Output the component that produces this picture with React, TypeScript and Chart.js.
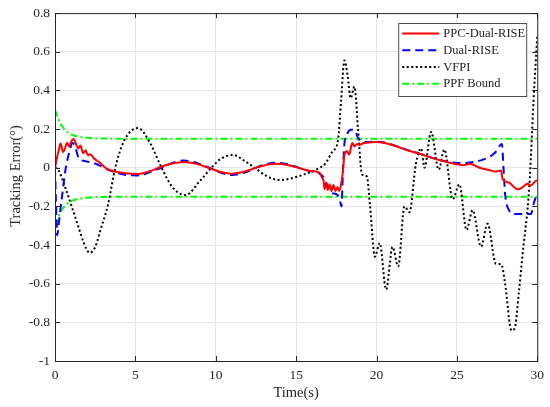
import { useEffect, useRef } from "react"
import { Chart, registerables } from "chart.js"

Chart.register(...registerables)

// [time (s), tracking error (deg)]
const ppcDualRise: [number, number][] = [
  [0, 0], [0.12, 0.05], [0.23, 0.09], [0.35, 0.125], [0.5, 0.08], [0.62, 0.1], [0.75, 0.128],
  [0.88, 0.11], [1.0, 0.135], [1.16, 0.148], [1.3, 0.125], [1.45, 0.1], [1.58, 0.115], [1.75, 0.075],
  [1.9, 0.09], [2.05, 0.065], [2.2, 0.07], [2.4, 0.05], [2.8, 0.025], [3.2, -0.004], [3.8, -0.021],
  [4.5, -0.03], [5.2, -0.032], [6.0, -0.015], [6.6, 0.005], [7.3, 0.022], [8.0, 0.03], [8.8, 0.02],
  [9.6, -0.002], [10.3, -0.022], [11.0, -0.031], [11.8, -0.02], [12.5, 0.0], [13.0, 0.012], [13.7, 0.02],
  [14.4, 0.015], [15.0, 0.003], [15.5, -0.009], [16.0, -0.018], [16.45, -0.026], [16.6, -0.05],
  [16.71, -0.069], [16.77, -0.112], [16.87, -0.078], [16.97, -0.115], [17.08, -0.085], [17.2, -0.12],
  [17.32, -0.09], [17.45, -0.12], [17.57, -0.1], [17.68, -0.12], [17.8, -0.085], [17.91, -0.02],
  [18.01, 0.068], [18.16, 0.085], [18.3, 0.068], [18.49, 0.128], [18.63, 0.11], [18.78, 0.123],
  [18.95, 0.118], [19.2, 0.128], [19.5, 0.13], [20.0, 0.133], [20.5, 0.128], [21.2, 0.112], [22.0, 0.088],
  [22.6, 0.075], [23.1, 0.06], [23.9, 0.04], [24.5, 0.027], [25.0, 0.018], [25.4, 0.013], [25.8, 0.02],
  [26.4, 0.0], [27.0, -0.012], [27.4, -0.02], [27.75, -0.015], [27.85, -0.06], [28.26, -0.078],
  [28.55, -0.1], [28.8, -0.112], [29.1, -0.1], [29.4, -0.083], [29.6, -0.092], [29.88, -0.07], [30, -0.065],
]

const dualRise: [number, number][] = [
  [0, 0], [0.05, -0.15], [0.14, -0.35], [0.22, -0.3], [0.33, -0.22], [0.43, -0.155], [0.64, -0.017],
  [0.85, 0.068], [1.1, 0.128], [1.25, 0.11], [1.47, 0.051], [1.88, 0.034], [2.5, 0.022], [3.3, -0.01],
  [3.8, -0.025], [4.5, -0.038], [5.2, -0.04], [6.0, -0.02], [6.6, 0.0], [7.3, 0.025], [8.0, 0.037],
  [8.8, 0.025], [9.6, 0.0], [10.3, -0.025], [11.0, -0.038], [11.8, -0.025], [12.5, 0.0], [13.0, 0.015],
  [13.7, 0.026], [14.4, 0.02], [15.0, 0.005], [15.5, -0.01], [16.0, -0.02], [16.45, -0.03], [16.8, -0.06],
  [17.1, -0.125], [17.5, -0.137], [17.7, -0.16], [17.82, -0.2], [17.92, 0.0], [18.0, 0.12], [18.15, 0.17],
  [18.4, 0.197], [18.65, 0.192], [18.85, 0.155], [19.05, 0.137], [19.5, 0.133], [20.0, 0.135],
  [20.5, 0.13], [21.2, 0.113], [22.0, 0.09], [22.6, 0.075], [23.1, 0.06], [23.9, 0.04], [24.5, 0.03],
  [25.0, 0.025], [25.5, 0.025], [26.0, 0.03], [26.5, 0.038], [27.0, 0.055], [27.4, 0.08], [27.8, 0.123],
  [27.9, 0.0], [28.0, -0.137], [28.25, -0.22], [28.6, -0.24], [29.6, -0.24], [29.8, -0.18], [30, -0.13],
]

const vfpi: [number, number][] = [
  [0, 0], [0.2, -0.01], [0.64, -0.103], [1.06, -0.206], [1.47, -0.31], [1.75, -0.38], [2.15, -0.44],
  [2.5, -0.41], [2.8, -0.33], [3.3, -0.19], [3.75, 0], [4.3, 0.14], [5.16, 0.205], [5.9, 0.13],
  [6.63, 0], [7.3, -0.1], [8.12, -0.142], [9.0, -0.07], [9.73, 0], [10.3, 0.045], [11.07, 0.066],
  [11.8, 0.035], [12.42, 0], [13.2, -0.045], [13.98, -0.064], [15.2, -0.043], [16.04, -0.017],
  [16.46, 0], [16.8, 0.02], [17.27, 0.085], [17.6, 0.14], [17.8, 0.35], [18.0, 0.555], [18.2, 0.48],
  [18.39, 0.36], [18.63, 0.42], [18.85, 0.2], [19.1, -0.035], [19.4, -0.045], [19.6, -0.2], [19.9, -0.46],
  [20.2, -0.39], [20.6, -0.63], [21.0, -0.41], [21.35, -0.51], [21.74, -0.2], [22.05, -0.23],
  [22.45, 0.02], [22.78, 0.1], [22.98, 0.0], [23.4, 0.185], [23.87, -0.01], [24.22, 0.094],
  [24.74, -0.163], [25.16, -0.086], [25.6, -0.322], [25.98, -0.22], [26.5, -0.408], [26.91, -0.29],
  [27.43, -0.497], [27.77, -0.5], [28.0, -0.6], [28.4, -0.842], [28.6, -0.83], [28.85, -0.65],
  [29.09, -0.447], [29.5, -0.103], [29.81, 0.41], [30.0, 0.677],
]

const ppfUpper: [number, number][] = [
  [0, 0.3], [0.2, 0.255], [0.4, 0.22], [0.6, 0.198], [0.8, 0.183], [1.0, 0.173], [1.3, 0.164],
  [1.6, 0.159], [2.0, 0.155], [2.5, 0.152], [3.0, 0.151], [4.0, 0.15], [30, 0.15],
]

const ppfLower: [number, number][] = [
  [0, -0.3], [0.2, -0.255], [0.4, -0.22], [0.6, -0.198], [0.8, -0.183], [1.0, -0.173], [1.3, -0.164],
  [1.6, -0.159], [2.0, -0.155], [2.5, -0.152], [3.0, -0.151], [4.0, -0.15], [30, -0.15],
]

const xTicks = { min: 0, max: 30, step: 5 }
const yTicks = { min: -1, max: 0.8, step: 0.2 }

const FONT = "'Liberation Serif', 'Times New Roman', serif"
const AXIS_COLOR = "#262626"

const toPoints = (pairs: [number, number][]) => pairs.map(([x, y]) => ({ x, y }))
const fmt = (v: number | string) => String(Number(Number(v).toFixed(1)))

// MATLAB-like box, inward ticks, axis titles and legend
const matlabAxes = {
  id: "matlabAxes",
  afterDraw(chart: Chart) {
    const { ctx, chartArea } = chart
    const { left, right, top, bottom } = chartArea
    const xs = chart.scales.x
    const ys = chart.scales.y
    ctx.save()
    ctx.strokeStyle = AXIS_COLOR
    ctx.lineWidth = 1
    ctx.setLineDash([])
    ctx.strokeRect(left + 0.5, top + 0.5, right - left, bottom - top)

    const tl = 5
    ctx.beginPath()
    xs.ticks.forEach((t) => {
      const px = Math.round(xs.getPixelForValue(t.value)) + 0.5
      ctx.moveTo(px, bottom)
      ctx.lineTo(px, bottom - tl)
      ctx.moveTo(px, top)
      ctx.lineTo(px, top + tl)
    })
    ys.ticks.forEach((t) => {
      const py = Math.round(ys.getPixelForValue(t.value)) + 0.5
      ctx.moveTo(left, py)
      ctx.lineTo(left + tl, py)
      ctx.moveTo(right, py)
      ctx.lineTo(right - tl, py)
    })
    ctx.stroke()

    // axis titles
    ctx.fillStyle = AXIS_COLOR
    ctx.font = `14.5px ${FONT}`
    ctx.textAlign = "center"
    ctx.textBaseline = "middle"
    ctx.fillText("Time(s)", (left + right) / 2, 393)
    ctx.save()
    ctx.translate(16, 176)
    ctx.rotate(-Math.PI / 2)
    ctx.fillText("Tracking Error(°)", 0, 0)
    ctx.restore()

    // legend
    const bx = right - 139
    const by = top + 10
    const bw = 128
    const bh = 73
    ctx.fillStyle = "#ffffff"
    ctx.fillRect(bx, by, bw, bh)
    ctx.strokeStyle = AXIS_COLOR
    ctx.lineWidth = 0.8
    ctx.strokeRect(bx + 0.5, by + 0.5, bw, bh)

    const items = chart.data.datasets.filter((d: any) => !d.hideInLegend)
    items.forEach((d: any, i: number) => {
      const cy = by + 10.5 + i * 16.7
      ctx.beginPath()
      ctx.strokeStyle = d.borderColor
      ctx.lineWidth = d.borderWidth
      ctx.setLineDash(d.borderDash || [])
      ctx.moveTo(bx + 4, cy)
      ctx.lineTo(bx + 41, cy)
      ctx.stroke()
      ctx.setLineDash([])
      ctx.fillStyle = AXIS_COLOR
      ctx.font = `12.5px ${FONT}`
      ctx.textAlign = "left"
      ctx.textBaseline = "middle"
      ctx.fillText(d.label, bx + 45, cy + 0.5)
    })
    ctx.restore()
  },
}

export default function App() {
  const chartRef = useRef<HTMLCanvasElement>(null)
  const chartInstance = useRef<Chart | null>(null)

  useEffect(() => {
    document.body.style.margin = "0"
    if (!chartRef.current) return
    if (chartInstance.current) chartInstance.current.destroy()

    const ctx = chartRef.current.getContext("2d")
    if (!ctx) return

    const common = { pointRadius: 0, fill: false, cubicInterpolationMode: "monotone" as const }

    chartInstance.current = new Chart(ctx, {
      type: "line",
      data: {
        datasets: [
          { ...common, label: "PPC-Dual-RISE", data: toPoints(ppcDualRise), borderColor: "#ff0000", borderWidth: 2 },
          { ...common, label: "Dual-RISE", data: toPoints(dualRise), borderColor: "#0000ff", borderWidth: 2, borderDash: [8, 5] },
          { ...common, label: "VFPI", data: toPoints(vfpi), borderColor: "#000000", borderWidth: 2, borderDash: [2, 2.5] },
          { ...common, label: "PPF Bound", data: toPoints(ppfUpper), borderColor: "#00ff00", borderWidth: 2, borderDash: [7, 3, 2, 3] },
          { ...common, label: "PPF Bound lower", hideInLegend: true, data: toPoints(ppfLower), borderColor: "#00ff00", borderWidth: 2, borderDash: [7, 3, 2, 3] } as any,
        ],
      },
      options: {
        animation: false,
        responsive: true,
        maintainAspectRatio: false,
        layout: { padding: { top: 11, right: 12, left: 0, bottom: 0 } },
        plugins: { legend: { display: false }, tooltip: { enabled: false } },
        scales: {
          x: {
            type: "linear",
            min: xTicks.min,
            max: xTicks.max,
            afterFit: (scale) => {
              scale.height = 46
            },
            ticks: { stepSize: xTicks.step, color: AXIS_COLOR, font: { family: FONT, size: 13.5 }, padding: 6, callback: fmt },
            grid: { color: "#e6e6e6", drawTicks: false },
            border: { display: false },
          },
          y: {
            type: "linear",
            min: yTicks.min,
            max: yTicks.max,
            afterFit: (scale) => {
              scale.width = 55
            },
            ticks: { stepSize: yTicks.step, color: AXIS_COLOR, font: { family: FONT, size: 13.5 }, padding: 5, callback: fmt },
            grid: { color: "#e6e6e6", drawTicks: false },
            border: { display: false },
          },
        },
      },
      plugins: [matlabAxes],
    })

    return () => {
      if (chartInstance.current) {
        chartInstance.current.destroy()
        chartInstance.current = null
      }
    }
  }, [])

  return (
    <div style={{ width: 550, height: 407, position: "relative" }}>
      <canvas ref={chartRef} />
    </div>
  )
}
